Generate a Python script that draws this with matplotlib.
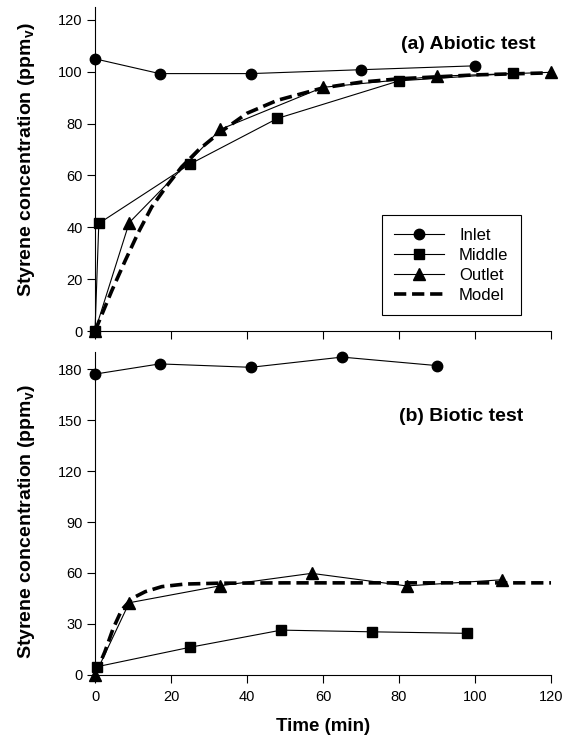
import matplotlib
matplotlib.use("Agg")
import matplotlib.pyplot as plt

plt.rcParams["font.family"] = ["Liberation Sans", "DejaVu Sans"]

# (a) Abiotic test
a_inlet_t = [0, 17, 41, 70, 100]
a_inlet_c = [105, 99.3, 99.3, 100.8, 102.3]
a_middle_t = [0, 1, 25, 48, 80, 110]
a_middle_c = [0, 41.5, 64.4, 82, 96.5, 99.4]
a_outlet_t = [0, 9, 33, 60, 90, 120]
a_outlet_c = [0, 41.8, 77.8, 94, 98.3, 99.8]
a_model_t = [0, 4.4, 7.9, 11.4, 14.9, 18.9, 22.8, 27.2, 32.5, 40, 48, 60, 70, 80, 100, 120]
a_model_c = [0, 15.5, 27, 38, 47.8, 56, 63.3, 69.8, 76.2, 84, 89, 93.8, 96, 97.3, 98.8, 99.6]

# (b) Biotic test
b_inlet_t = [0, 17, 41, 65, 90]
b_inlet_c = [177, 183, 181, 187, 182]
b_middle_t = [0.6, 25, 49, 73, 98]
b_middle_c = [4.9, 16.3, 26.4, 25.4, 24.5]
b_outlet_t = [0, 9, 33, 57, 82, 107]
b_outlet_c = [0, 42.5, 52.5, 59.8, 52.4, 56]
b_model_t = [0, 2.6, 4.8, 7, 9.7, 13.2, 17.6, 23.7, 32.5, 50, 80, 120]
b_model_c = [0, 13.7, 27.5, 38.2, 45, 49, 52, 53.5, 54, 54.2, 54.2, 54.2]

fig = plt.figure(figsize=(5.71, 7.42), dpi=100)
ax1 = fig.add_axes([0.1664, 0.5539, 0.7986, 0.4367])
ax2 = fig.add_axes([0.1664, 0.0903, 0.7986, 0.4353])


def draw_panel(ax, inlet, middle, outlet, model):
    ax.plot(*inlet, color="black", lw=0.8, marker="o", ms=7.5, label="Inlet",
            clip_on=False, zorder=3)
    ax.plot(*middle, color="black", lw=0.8, marker="s", ms=6.8, label="Middle",
            clip_on=False, zorder=3)
    ax.plot(*outlet, color="black", lw=0.8, marker="^", ms=8, label="Outlet",
            clip_on=False, zorder=3)
    ax.plot(*model, color="black", lw=2.6, ls=(0, (3.4, 1.6)), label="Model",
            clip_on=False, zorder=4)
    ax.spines["top"].set_visible(False)
    ax.spines["right"].set_visible(False)
    ax.tick_params(direction="out", length=5.5, width=0.8, labelsize=10.5)
    ax.tick_params(axis="x", pad=5.5)
    ax.set_xlim(0, 120)
    ax.set_xticks(range(0, 121, 20))
    ax.set_ylabel("Styrene concentration (ppm$_\\mathregular{v}$)",
                  fontsize=14, fontweight="bold")


draw_panel(ax1, (a_inlet_t, a_inlet_c), (a_middle_t, a_middle_c),
           (a_outlet_t, a_outlet_c), (a_model_t, a_model_c))
draw_panel(ax2, (b_inlet_t, b_inlet_c), (b_middle_t, b_middle_c),
           (b_outlet_t, b_outlet_c), (b_model_t, b_model_c))

ax1.set_ylim(0, 125)
ax1.set_yticks(range(0, 121, 20))
ax1.tick_params(axis="x", labelbottom=False)
ax1.yaxis.set_label_coords(-0.128, 0.53)
ax2.set_ylim(0, 190)
ax2.set_yticks(range(0, 181, 30))
ax2.yaxis.set_label_coords(-0.128, 0.475)
ax2.set_xlabel("Time (min)", fontsize=13.5, fontweight="bold", labelpad=10)

ax1.text(0.967, 0.885, "(a) Abiotic test", transform=ax1.transAxes,
         ha="right", va="center", fontsize=14, fontweight="bold")
ax2.text(0.94, 0.80, "(b) Biotic test", transform=ax2.transAxes,
         ha="right", va="center", fontsize=14, fontweight="bold")

leg = ax1.legend(loc="lower right", bbox_to_anchor=(0.934, 0.048), fontsize=12,
                 handlelength=3.0, fancybox=False, edgecolor="black",
                 framealpha=1, borderpad=0.75, labelspacing=0.3, handletextpad=0.9,
                 borderaxespad=0)
leg.get_frame().set_linewidth(0.8)

fig.savefig("out.png", dpi=100)
